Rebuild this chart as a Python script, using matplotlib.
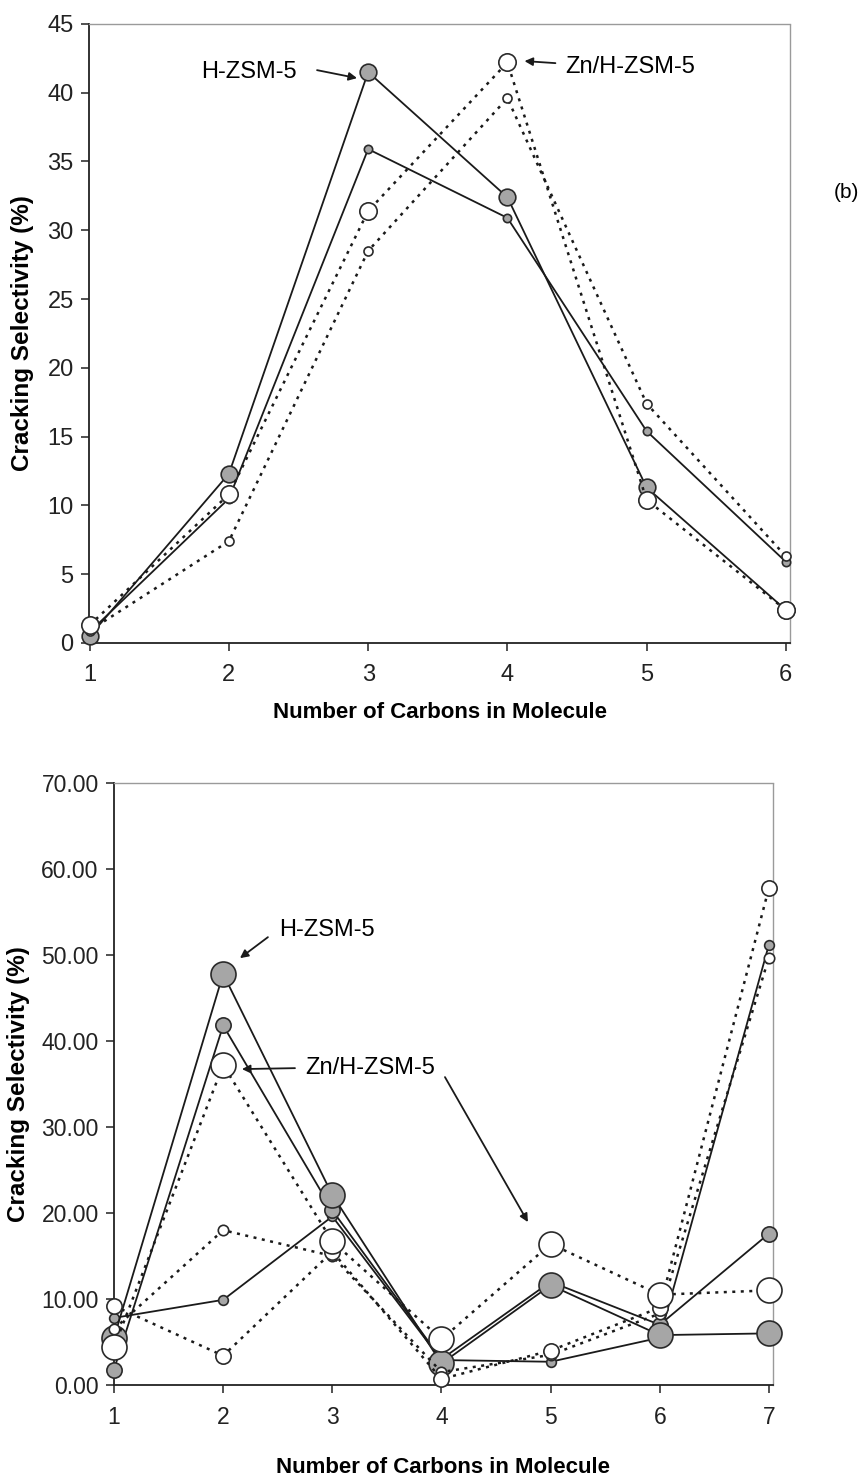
import matplotlib
matplotlib.use("Agg")
from matplotlib import pyplot as plt

plt.rcParams['font.family'] = ['Liberation Sans', 'DejaVu Sans']

# ---- top chart (b) ----
top_x = [1, 2, 3, 4, 5, 6]
top_h_large = [0.5, 12.3, 41.5, 32.4, 11.3, 2.4]
top_h_small = [0.8, 10.5, 35.9, 30.9, 15.4, 5.9]
top_zn_large = [1.3, 10.8, 31.4, 42.2, 10.4, 2.4]
top_zn_small = [0.9, 7.4, 28.5, 39.6, 17.4, 6.3]
top_yticks = [0, 5, 10, 15, 20, 25, 30, 35, 40, 45]

# ---- bottom chart ----
bot_x = [1, 2, 3, 4, 5, 6, 7]
bot_h_large = [5.5, 47.8, 22.1, 2.5, 11.6, 5.8, 6.0]
bot_h_medium = [1.8, 41.8, 20.3, 3.0, 12.0, 7.0, 17.6]
bot_h_small = [7.8, 9.9, 19.6, 2.9, 2.7, 5.5, 51.2]
bot_zn_large = [4.4, 37.2, 16.7, 5.3, 16.4, 10.5, 11.0]
bot_zn_medium = [9.2, 3.4, 15.5, 0.7, 4.0, 9.0, 57.8]
bot_zn_small = [6.5, 18.0, 15.0, 1.5, 3.5, 8.3, 49.7]
bot_yticks = [0, 10, 20, 30, 40, 50, 60, 70]

GRAY = '#a6a6a6'
EDGE = '#2a2a2a'
DOT = (0, (1.2, 2.2))


def style_axes(ax, size):
    for side in ('left', 'bottom'):
        ax.spines[side].set_color('#222222')
        ax.spines[side].set_linewidth(1.3)
    for side in ('top', 'right'):
        ax.spines[side].set_color('#9a9a9a')
        ax.spines[side].set_linewidth(1.0)
        ax.spines[side].set_linestyle((0, (1, 1)))
    ax.tick_params(direction='out', length=6, width=1.1, labelsize=size,
                   colors='#222222')
    ax.tick_params(axis='x', pad=9)
    ax.tick_params(axis='y', pad=5)
    ax.set_facecolor('white')


def series(ax, x, y, solid, size):
    face = GRAY if solid else 'white'
    ls = '-' if solid else DOT
    lw = 1.3 if solid else 1.8
    ax.plot(x, y, linestyle=ls, color='#1a1a1a', lw=lw, marker='o',
            markersize=size, markerfacecolor=face, markeredgecolor=EDGE,
            markeredgewidth=1.2, clip_on=False, zorder=3)


def arrow(ax, start, end):
    ax.annotate('', xy=end, xytext=start,
                arrowprops=dict(arrowstyle='-|>', color='#1a1a1a', lw=1.3,
                                mutation_scale=12, shrinkA=0, shrinkB=0))


fig = plt.figure(figsize=(8.65, 14.77), dpi=100)

# top axes
ax1 = fig.add_axes([0.1029, 0.5647, 0.8104, 0.4191])
series(ax1, top_x, top_h_small, True, 6)
series(ax1, top_x, top_h_large, True, 12)
series(ax1, top_x, top_zn_small, False, 6.5)
series(ax1, top_x, top_zn_large, False, 12.5)
ax1.set_xlim(0.995, 6.03)
ax1.set_ylim(0, 45)
ax1.set_xticks(top_x)
ax1.set_yticks(top_yticks)
style_axes(ax1, 17)
ax1.set_xlabel('Number of Carbons in Molecule', fontsize=16,
               fontweight='bold', labelpad=12)
ax1.set_ylabel('Cracking Selectivity (%)', fontsize=17.5, fontweight='bold',
               labelpad=10)
ax1.text(2.143, 41.5, 'H-ZSM-5', fontsize=17, ha='center', va='center')
arrow(ax1, (2.633, 41.64), (2.92, 41.06))
ax1.text(4.417, 41.86, 'Zn/H-ZSM-5', fontsize=17, ha='left', va='center')
arrow(ax1, (4.345, 42.15), (4.123, 42.3))
fig.text(846 / 865, 1 - 193 / 1477, '(b)', fontsize=15, ha='center',
         va='center')

# bottom axes
ax2 = fig.add_axes([0.1318, 0.0623, 0.7618, 0.4076])
series(ax2, bot_x, bot_h_small, True, 7)
series(ax2, bot_x, bot_h_medium, True, 11)
series(ax2, bot_x, bot_h_large, True, 18)
series(ax2, bot_x, bot_zn_small, False, 7.5)
series(ax2, bot_x, bot_zn_medium, False, 11)
series(ax2, bot_x, bot_zn_large, False, 18)
ax2.set_xlim(1.0, 7.037)
ax2.set_ylim(0, 70)
ax2.set_xticks(bot_x)
ax2.set_yticks(bot_yticks)
ax2.set_yticklabels([f'{v:.2f}' for v in bot_yticks])
style_axes(ax2, 16.5)
ax2.set_xlabel('Number of Carbons in Molecule', fontsize=16,
               fontweight='bold', labelpad=20)
ax2.set_ylabel('Cracking Selectivity (%)', fontsize=17.5, fontweight='bold',
               labelpad=8)
ax2.text(2.947, 52.9, 'H-ZSM-5', fontsize=17, ha='center', va='center')
arrow(ax2, (2.41, 52.07), (2.154, 49.63))
ax2.text(3.35, 36.84, 'Zn/H-ZSM-5', fontsize=17, ha='center', va='center')
arrow(ax2, (2.658, 36.84), (2.172, 36.73))
arrow(ax2, (4.032, 35.8), (4.792, 18.94))

fig.savefig('out.png', dpi=100, facecolor='white')
